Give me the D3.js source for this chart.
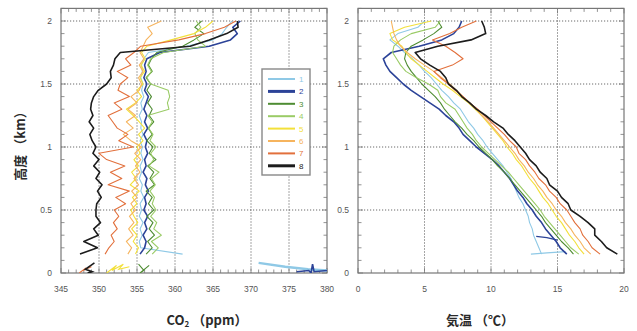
<!DOCTYPE html>
<html lang="ja">
<head>
<meta charset="UTF-8">
<title>CO2 and temperature profiles</title>
<script src="https://d3js.org/d3.v7.min.js"></script>
<style>
  body { margin: 0; background: #fff; }
  .tick-label { font-family: "Liberation Sans", Arial, sans-serif; font-size: 8.5px; fill: #555; }
  .axis-title { font-family: "Noto Sans CJK JP", sans-serif; font-size: 13px; fill: #2a2a2a; font-weight: 700; }
  .legend-label { font-family: "Liberation Sans", Arial, sans-serif; font-size: 8px; }
</style>
</head>
<body>
<div id="chart"></div>
<script>
// altitude grid (km) shared by all profiles
const altitude = [0.15,0.2,0.25,0.3,0.35,0.4,0.45,0.5,0.55,0.6,0.65,0.7,0.75,0.8,0.85,0.9,0.95,1.0,1.05,1.1,1.15,1.2,1.25,1.3,1.35,1.4,1.45,1.5,1.55,1.6,1.65,1.7,1.75,1.8,1.85,1.9,1.95,2.0];

// CO2 (ppm)
const co2_1 = [361.0,355.5,355.3,355.7,355.4,355.8,355.3,355.6,355.4,355.9,355.5,355.7,355.3,355.6,355.4,355.8,355.5,355.7,355.4,355.8,355.5,355.6,355.3,355.7,355.5,355.9,355.6,355.8,355.5,355.7,355.6,355.9,356.5,361.5,365.0,366.2,366.8,367.5];
const co2_2 = [355.4,356.0,356.2,355.8,356.3,356.0,356.4,355.9,356.2,356.0,356.5,356.1,356.3,355.8,356.2,356.0,356.4,356.1,356.3,355.9,356.4,356.0,356.3,355.9,356.2,356.5,356.0,356.3,355.9,356.2,356.0,356.3,358.0,364.5,367.3,368.2,367.6,368.6];
const co2_3 = [356.2,357.0,356.4,357.3,356.6,357.1,356.3,357.2,356.5,357.0,356.2,357.3,356.7,357.2,356.4,357.5,356.6,357.1,356.3,357.0,356.5,357.2,356.6,357.0,356.4,356.9,356.3,356.8,356.2,357.0,356.5,356.9,357.6,361.0,362.5,363.8,362.6,363.5];
const co2_4 = [357.0,357.8,356.9,358.2,357.2,357.6,356.8,357.5,357.0,357.3,356.7,357.4,356.9,357.9,356.6,357.2,356.8,357.5,356.7,357.1,356.5,357.0,356.4,359.2,359.0,359.3,359.1,356.8,356.3,356.9,356.4,356.8,358.5,364.0,363.0,362.6,363.4,362.8];
const co2_5 = [354.8,355.2,354.5,355.0,354.3,355.1,354.6,354.2,355.0,354.4,355.3,354.1,354.9,354.3,355.2,354.6,355.4,355.0,355.8,355.2,356.0,355.3,354.5,353.6,354.8,355.6,355.0,355.8,355.4,356.0,355.5,356.1,355.6,356.3,359.5,362.5,364.0,365.0];
const co2_6 = [353.8,354.3,353.6,354.5,353.9,354.6,354.0,354.8,354.2,355.0,354.3,355.2,354.6,355.4,354.8,355.5,354.7,355.6,354.2,353.2,354.5,353.6,354.8,353.8,355.0,354.2,355.3,355.6,355.2,355.8,355.3,355.9,355.4,355.8,356.2,357.0,356.4,358.2];
const co2_7 = [350.8,351.3,352.0,351.6,352.4,351.9,352.6,352.0,353.5,352.2,354.0,351.2,353.0,351.5,353.4,351.0,350.0,354.5,352.6,353.8,352.4,351.8,351.2,353.0,352.0,354.0,352.5,352.8,353.8,352.4,354.2,353.5,354.6,355.5,360.5,364.0,366.5,368.0];
const co2_8 = [347.5,349.8,348.0,349.9,349.3,350.2,349.6,349.6,349.7,350.3,349.8,350.4,349.6,350.1,349.3,350.0,349.2,349.6,349.1,348.8,349.3,348.7,349.2,348.9,349.0,349.3,349.9,351.0,351.6,351.5,351.9,352.1,352.8,362.0,364.5,366.8,368.3,368.2];

// near-ground CO2 readings
const gndCo2_1 = [371.0,374.5,377.5,380.0], gndAlt_1 = [0.08,0.05,0.03,0.02];
const gndCo2_2 = [376.0,377.6,377.9,378.1,378.3,380.0], gndAlt_2 = [0.01,0.02,0.0,0.07,0.01,0.02];
const gndCo2_3 = [355.2,355.9,355.4,356.6], gndAlt_3 = [0.07,0.02,0.0,0.06];
const gndCo2_5 = [351.0,352.3,351.7,353.2,352.6,354.0], gndAlt_5 = [0.0,0.06,0.02,0.07,0.03,0.05];
const gndCo2_7 = [347.4,348.3,347.9,349.0], gndAlt_7 = [0.0,0.04,0.02,0.05];
const gndCo2_8 = [349.4,348.2,349.1,348.5], gndAlt_8 = [0.08,0.03,0.01,0.0];

// air temperature (deg C)
const temp_1 = [13.8,13.6,13.4,13.2,13.1,12.9,12.8,12.6,12.4,12.1,11.9,11.7,11.5,11.2,10.9,10.5,10.1,9.7,9.4,9.0,8.7,8.3,8.0,7.7,7.2,6.8,6.3,5.9,5.5,5.0,4.6,4.1,3.5,3.0,2.4,3.0,4.5,5.0];
const temp_2 = [15.7,15.2,14.9,14.5,14.1,13.8,13.4,13.1,12.7,12.4,12.0,11.7,11.4,11.0,10.6,10.1,9.5,8.9,8.4,7.9,7.6,7.2,6.6,6.1,5.4,4.7,4.0,3.4,2.9,2.4,2.1,1.9,2.5,4.6,6.3,7.2,7.6,7.8];
const temp_3 = [16.2,15.8,15.3,14.9,14.5,14.1,13.8,13.4,13.0,12.6,12.2,11.8,11.4,11.0,10.5,10.1,9.6,9.1,8.7,8.2,7.8,7.3,6.9,6.5,6.2,5.8,5.3,4.8,4.4,4.0,3.7,3.5,3.6,4.0,4.9,5.7,6.3,6.0];
const temp_4 = [16.6,16.0,15.6,15.2,14.8,14.4,14.0,13.7,13.3,12.9,12.5,12.1,11.7,11.3,10.8,10.3,9.8,9.3,8.9,8.6,8.2,7.9,7.6,7.3,6.6,6.2,6.0,5.3,4.4,3.6,3.2,2.9,2.6,2.7,3.2,4.0,5.8,6.2];
const temp_5 = [17.0,16.6,16.3,15.9,15.6,15.3,14.9,14.6,14.3,13.9,13.6,13.3,12.9,12.6,12.3,11.9,11.6,11.2,10.9,10.5,10.1,9.7,9.3,8.8,8.3,7.7,7.1,6.4,5.8,5.2,4.6,4.0,3.6,3.3,2.6,2.4,3.5,5.5];
const temp_6 = [17.5,17.0,16.7,16.3,16.0,15.6,15.3,14.9,14.6,14.2,13.9,13.5,13.2,12.8,12.5,12.1,11.8,11.4,11.0,10.6,10.2,9.8,9.3,8.9,8.4,7.9,7.4,6.9,6.3,5.7,5.0,4.3,3.7,3.2,2.9,2.7,2.6,2.5];
const temp_7 = [18.2,17.6,17.3,16.9,16.7,16.3,16.0,15.7,15.2,14.9,14.4,14.1,13.6,13.3,12.9,12.6,12.1,11.9,11.4,11.0,10.5,10.0,9.5,9.0,8.4,7.9,7.3,6.8,6.2,5.7,7.1,7.9,7.3,6.6,5.6,6.9,7.8,8.9];
const temp_8 = [19.5,18.7,18.3,17.8,17.8,17.3,16.7,16.0,15.8,15.3,15.0,14.4,14.2,13.7,13.4,12.9,12.6,12.2,11.8,11.3,10.9,10.2,9.6,8.9,8.4,7.8,7.4,6.8,6.6,6.2,5.4,4.7,4.3,6.0,8.5,9.6,9.5,9.3];

// low-level temperature fragments
const lowTemp_1 = [13.0,14.2,15.6], lowAlt_1 = [0.15,0.16,0.17];
const lowTemp_2 = [13.4,14.2,15.0], lowAlt_2 = [0.29,0.28,0.26];

const seriesNames = ["1","2","3","4","5","6","7","8"];
const seriesColors = ["#8fc9e6","#2c4398","#4e8c32","#9acb66","#f3e03a","#f6b45e","#e2703c","#1c1c1c"];
const seriesWidths = [1.1,1.6,1.1,1.1,1.1,1.1,1.1,1.6];

const co2Profiles = [co2_1,co2_2,co2_3,co2_4,co2_5,co2_6,co2_7,co2_8];
const tempProfiles = [temp_1,temp_2,temp_3,temp_4,temp_5,temp_6,temp_7,temp_8];
const co2Ground = [
  {s: 0, v: gndCo2_1, a: gndAlt_1, w: 2.4},
  {s: 1, v: gndCo2_2, a: gndAlt_2, w: 1.6},
  {s: 2, v: gndCo2_3, a: gndAlt_3, w: 1.1},
  {s: 4, v: gndCo2_5, a: gndAlt_5, w: 1.1},
  {s: 6, v: gndCo2_7, a: gndAlt_7, w: 1.1},
  {s: 7, v: gndCo2_8, a: gndAlt_8, w: 1.6}
];
const tempLow = [
  {s: 0, v: lowTemp_1, a: lowAlt_1, w: 1.1},
  {s: 1, v: lowTemp_2, a: lowAlt_2, w: 1.3}
];

const co2Ticks = [345,350,355,360,365,370,375,380];
const tempTicks = [0,5,10,15,20];
const altTicks = [0,0.5,1,1.5,2];

const width = 637, height = 331;
const svg = d3.select("#chart").append("svg")
  .attr("width", width)
  .attr("height", height);

const y = d3.scaleLinear().domain([0, 2.1]).range([273, 8.4]);
const xCo2 = d3.scaleLinear().domain([345, 380]).range([61, 327]);
const xTemp = d3.scaleLinear().domain([0, 20]).range([358, 624]);

function drawPanel(id, x, majors, minorStep) {
  const [x0, x1] = x.range();
  const [y0, y1] = y.range();
  const g = svg.append("g");

  g.append("clipPath").attr("id", id)
    .append("rect").attr("x", x0).attr("y", y1).attr("width", x1 - x0).attr("height", y0 - y1);

  // dotted grid
  g.selectAll(".gx").data(majors.slice(1, -1)).enter().append("line")
    .attr("x1", d => x(d)).attr("x2", d => x(d)).attr("y1", y1).attr("y2", y0)
    .attr("stroke", "#444").attr("stroke-width", 0.8).attr("stroke-dasharray", "1.2,1.8");
  g.selectAll(".gy").data(altTicks.slice(1)).enter().append("line")
    .attr("x1", x0).attr("x2", x1).attr("y1", d => y(d)).attr("y2", d => y(d))
    .attr("stroke", "#444").attr("stroke-width", 0.8).attr("stroke-dasharray", "1.2,1.8");

  // inward ticks on all four sides
  const d0 = x.domain();
  const minorX = d3.range(d0[0], d0[1] + 0.001, minorStep);
  const minorY = d3.range(0, 2.101, 0.1);
  const tk = g.append("g").attr("stroke", "#777").attr("stroke-width", 0.8);
  minorX.forEach(v => {
    const len = majors.some(m => Math.abs(m - v) < 1e-6) ? 5 : 3.5;
    tk.append("line").attr("x1", x(v)).attr("x2", x(v)).attr("y1", y0).attr("y2", y0 - len);
    tk.append("line").attr("x1", x(v)).attr("x2", x(v)).attr("y1", y1).attr("y2", y1 + len);
  });
  minorY.forEach(v => {
    const len = altTicks.some(m => Math.abs(m - v) < 1e-6) ? 5 : 3.5;
    tk.append("line").attr("x1", x0).attr("x2", x0 + len).attr("y1", y(v)).attr("y2", y(v));
    tk.append("line").attr("x1", x1).attr("x2", x1 - len).attr("y1", y(v)).attr("y2", y(v));
  });

  g.append("rect").attr("x", x0).attr("y", y1).attr("width", x1 - x0).attr("height", y0 - y1)
    .attr("fill", "none").attr("stroke", "#777").attr("stroke-width", 1.2);

  // tick labels
  g.selectAll(".lx").data(majors).enter().append("text")
    .attr("class", "tick-label").attr("x", d => x(d)).attr("y", 292)
    .attr("text-anchor", "middle").text(d => d);
  g.selectAll(".ly").data(altTicks).enter().append("text")
    .attr("class", "tick-label").attr("x", x0 - 9).attr("y", d => y(d) + 3)
    .attr("text-anchor", "end").text(d => d);
  return g;
}

const left = drawPanel("clipL", xCo2, co2Ticks, 1);
const right = drawPanel("clipR", xTemp, tempTicks, 1);

const lineCo2 = d3.line().x(d => xCo2(d[0])).y(d => y(d[1]));
const lineTemp = d3.line().x(d => xTemp(d[0])).y(d => y(d[1]));

const plotL = left.append("g").attr("clip-path", "url(#clipL)").attr("fill", "none");
const plotR = right.append("g").attr("clip-path", "url(#clipR)").attr("fill", "none");

co2Ground.forEach(gp => {
  plotL.append("path")
    .attr("d", lineCo2(gp.v.map((v, i) => [v, gp.a[i]])))
    .attr("stroke", seriesColors[gp.s]).attr("stroke-width", gp.w);
});
tempLow.forEach(gp => {
  plotR.append("path")
    .attr("d", lineTemp(gp.v.map((v, i) => [v, gp.a[i]])))
    .attr("stroke", seriesColors[gp.s]).attr("stroke-width", gp.w);
});

seriesNames.forEach((name, s) => {
  plotL.append("path")
    .attr("d", lineCo2(co2Profiles[s].map((v, i) => [v, altitude[i]])))
    .attr("stroke", seriesColors[s]).attr("stroke-width", seriesWidths[s])
    .attr("stroke-linejoin", "round");
  plotR.append("path")
    .attr("d", lineTemp(tempProfiles[s].map((v, i) => [v, altitude[i]])))
    .attr("stroke", seriesColors[s]).attr("stroke-width", seriesWidths[s])
    .attr("stroke-linejoin", "round");
});

// legend
const lg = svg.append("g").attr("transform", "translate(262,69)");
lg.append("rect").attr("width", 48).attr("height", 106)
  .attr("fill", "#fff").attr("stroke", "#888").attr("stroke-width", 1.4);
seriesNames.forEach((name, s) => {
  const ly = 10 + s * 12.4;
  lg.append("line").attr("x1", 6).attr("x2", 33).attr("y1", ly).attr("y2", ly)
    .attr("stroke", seriesColors[s]).attr("stroke-width", s === 1 || s === 7 ? 3 : 2);
  lg.append("text").attr("class", "legend-label").attr("x", 37).attr("y", ly + 3)
    .attr("fill", seriesColors[s]).text(name);
});

// axis titles
const t1 = svg.append("text").attr("class", "axis-title").attr("x", 207).attr("y", 325).attr("text-anchor", "middle");
t1.append("tspan").text("CO");
t1.append("tspan").attr("font-size", "8px").attr("dy", 2).text("2");
t1.append("tspan").attr("dy", -2).text(" （ppm）");

svg.append("text").attr("class", "axis-title").attr("x", 480).attr("y", 325)
  .attr("text-anchor", "middle").text("気温 （℃）");

svg.append("text").attr("class", "axis-title")
  .attr("transform", "translate(25,143) rotate(-90)")
  .attr("text-anchor", "middle").text("高度 （km）");
</script>
</body>
</html>
